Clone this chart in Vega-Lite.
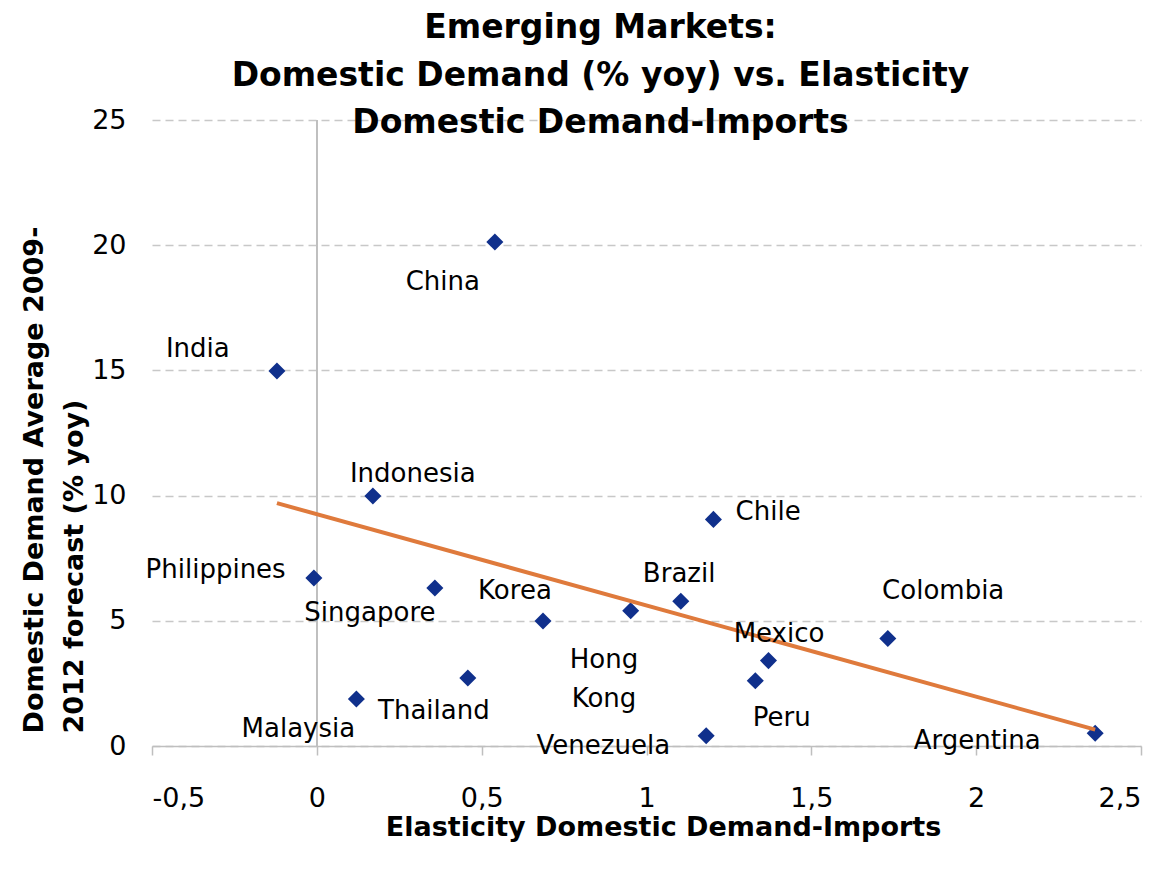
{
  "$schema": "https://vega.github.io/schema/vega-lite/v6.json",
  "width": 989,
  "height": 626,
  "autosize": {"type": "none"},
  "padding": {"left": 152, "top": 120, "right": 26, "bottom": 124},
  "background": "white",
  "title": {
    "text": ["Emerging Markets:", "Domestic Demand (% yoy) vs. Elasticity", "Domestic Demand-Imports"],
    "font": "DejaVu Sans",
    "fontSize": 33,
    "fontWeight": "bold",
    "lineHeight": 47.5,
    "color": "black",
    "anchor": "middle",
    "frame": "group",
    "baseline": "alphabetic",
    "dx": -46,
    "offset": -60
  },
  "data": {
    "values": [
      {"country": "India", "label": "India", "x": -0.121, "y": 14.98, "lx": -0.361, "ly": 15.85},
      {"country": "China", "label": "China", "x": 0.540, "y": 20.13, "lx": 0.382, "ly": 18.53},
      {"country": "Indonesia", "label": "Indonesia", "x": 0.170, "y": 9.98, "lx": 0.291, "ly": 10.86},
      {"country": "Philippines", "label": "Philippines", "x": -0.009, "y": 6.71, "lx": -0.307, "ly": 7.03},
      {"country": "Singapore", "label": "Singapore", "x": 0.358, "y": 6.31, "lx": 0.161, "ly": 5.31},
      {"country": "Malaysia", "label": "Malaysia", "x": 0.120, "y": 1.88, "lx": -0.056, "ly": 0.68},
      {"country": "Thailand", "label": "Thailand", "x": 0.458, "y": 2.72, "lx": 0.355, "ly": 1.40},
      {"country": "Korea", "label": "Korea", "x": 0.686, "y": 4.99, "lx": 0.601, "ly": 6.19},
      {"country": "Hong Kong", "label": "Hong\nKong", "x": 0.952, "y": 5.40, "lx": 0.871, "ly": 3.43},
      {"country": "Brazil", "label": "Brazil", "x": 1.104, "y": 5.78, "lx": 1.099, "ly": 6.87},
      {"country": "Chile", "label": "Chile", "x": 1.203, "y": 9.05, "lx": 1.369, "ly": 9.35},
      {"country": "Venezuela", "label": "Venezuela", "x": 1.181, "y": 0.41, "lx": 0.869, "ly": 0.0},
      {"country": "Peru", "label": "Peru", "x": 1.330, "y": 2.61, "lx": 1.410, "ly": 1.12},
      {"country": "Mexico", "label": "Mexico", "x": 1.370, "y": 3.41, "lx": 1.402, "ly": 4.47},
      {"country": "Colombia", "label": "Colombia", "x": 1.732, "y": 4.29, "lx": 1.900, "ly": 6.19},
      {"country": "Argentina", "label": "Argentina", "x": 2.361, "y": 0.51, "lx": 2.003, "ly": 0.20}
    ]
  },
  "layer": [
    {
      "mark": {"type": "rule", "color": "#BFBFBF", "strokeWidth": 1.5},
      "encoding": {
        "x": {"datum": 0, "type": "quantitative"}
      }
    },
    {
      "mark": {"type": "point", "shape": "diamond", "filled": true, "size": 290, "color": "#10308C", "opacity": 1},
      "encoding": {
        "x": {
          "field": "x", "type": "quantitative",
          "scale": {"domain": [-0.5, 2.5], "nice": false, "zero": false},
          "axis": {"values": [-0.5, 0, 0.5, 1, 1.5, 2, 2.5], "format": "~f", "title": "Elasticity Domestic Demand-Imports"}
        },
        "y": {
          "field": "y", "type": "quantitative",
          "scale": {"domain": [0, 25], "nice": false},
          "axis": {"values": [0, 5, 10, 15, 20, 25], "format": "~f", "title": ["Domestic Demand Average 2009-", "2012 forecast (% yoy)"]}
        }
      }
    },
    {
      "transform": [{"regression": "y", "on": "x"}],
      "mark": {"type": "line", "color": "#DF7A3C", "strokeWidth": 4},
      "encoding": {
        "x": {"field": "x", "type": "quantitative"},
        "y": {"field": "y", "type": "quantitative"}
      }
    },
    {
      "mark": {"type": "text", "font": "DejaVu Sans", "fontSize": 26, "color": "black", "align": "center", "baseline": "middle", "lineBreak": "\n", "lineHeight": 39},
      "encoding": {
        "x": {"field": "lx", "type": "quantitative"},
        "y": {"field": "ly", "type": "quantitative"},
        "text": {"field": "label"}
      }
    }
  ],
  "config": {
    "view": {"stroke": null},
    "locale": {"number": {"decimal": ",", "thousands": ".", "grouping": [3], "currency": ["", ""], "minus": "-"}},
    "axisX": {
      "domainColor": "#BFBFBF", "domainWidth": 1.5,
      "tickColor": "#BFBFBF", "tickWidth": 1.5, "tickSize": 9,
      "grid": false,
      "labelFont": "DejaVu Sans", "labelFontSize": 27, "labelColor": "black", "labelPadding": 30,
      "titleFont": "DejaVu Sans", "titleFontSize": 27, "titleFontWeight": "bold", "titleColor": "black",
      "titleX": 511, "titleY": 89, "titleBaseline": "alphabetic", "titleAlign": "center"
    },
    "axisY": {
      "domain": false, "ticks": false, "tickSize": 0,
      "grid": true, "gridColor": "#C8C8C8", "gridDash": [8, 5], "gridWidth": 1.3,
      "labelFont": "DejaVu Sans", "labelFontSize": 27, "labelColor": "black", "labelPadding": 26,
      "titleFont": "DejaVu Sans", "titleFontSize": 27, "titleFontWeight": "bold", "titleColor": "black",
      "titleAngle": -90, "titleAlign": "left", "titleBaseline": "alphabetic", "titleLineHeight": 40,
      "titleX": -110, "titleY": 613
    }
  }
}
